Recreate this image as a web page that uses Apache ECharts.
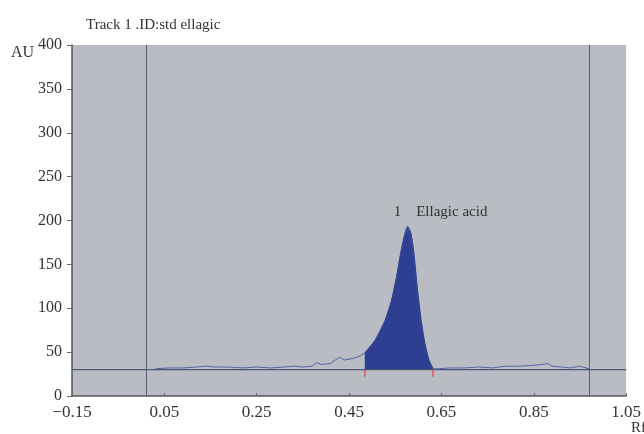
<!DOCTYPE html>
<html lang="en">
<head>
  <meta charset="UTF-8">
  <title>Track 1 .ID:std ellagic</title>
  <script src="https://cdn.jsdelivr.net/npm/echarts@6/dist/echarts.min.js"></script>
</head>
<body style="margin:0;background:#fff">
<div id="chart" style="width:644px;height:434px"></div>
<script>
// Rf / AU readings taken from the densitogram
const xTicks = [-0.15, 0.05, 0.25, 0.45, 0.65, 0.85, 1.05];
const baselineAU = 30;
const trackLines = [0.015, 0.975]; // start / front of the track

const noiseLeft = [
  [0.03, 31], [0.06, 32], [0.09, 32], [0.12, 33], [0.14, 34], [0.16, 33],
  [0.19, 33], [0.22, 32], [0.25, 33], [0.28, 32], [0.31, 33], [0.33, 34],
  [0.35, 33], [0.37, 34], [0.38, 38], [0.39, 36], [0.41, 37], [0.42, 41],
  [0.43, 44], [0.44, 41], [0.46, 43], [0.475, 46]
];
const peak = [
  [0.484, 49], [0.507, 64], [0.528, 86], [0.542, 109], [0.553, 136],
  [0.562, 163], [0.570, 183], [0.577, 193], [0.584, 185], [0.591, 159],
  [0.598, 121], [0.606, 86], [0.614, 60], [0.623, 41], [0.632, 31]
];
const noiseRight = [
  [0.64, 31], [0.67, 32], [0.70, 32], [0.73, 33], [0.76, 32], [0.79, 34],
  [0.82, 34], [0.85, 35], [0.87, 36], [0.88, 37], [0.89, 34], [0.91, 33],
  [0.93, 32], [0.95, 34], [0.97, 31]
];
const peakName = 'Ellagic acid';

const serif = '"Liberation Serif", "DejaVu Serif", serif';
const signal = noiseLeft.concat(peak, noiseRight);
const apex = peak.reduce((a, b) => (b[1] > a[1] ? b : a));
const peakStart = peak[0][0];
const peakEnd = peak[peak.length - 1][0];

const chart = echarts.init(document.getElementById('chart'));
chart.setOption({
  animation: false,
  grid: {
    left: 72, right: 15, top: 45, bottom: 38,
    show: true, backgroundColor: '#b9bcc3', borderWidth: 0
  },
  graphic: [
    { type: 'text', left: 86, top: 18, style: { text: 'Track 1 .ID:std ellagic', font: '15px ' + serif, fill: '#333' } },
    { type: 'text', left: 11, top: 45, style: { text: 'AU', font: '16px ' + serif, fill: '#333' } },
    { type: 'text', left: 631, top: 421, style: { text: 'Rf', font: '15px ' + serif, fill: '#333' } }
  ],
  xAxis: {
    type: 'value',
    min: -0.15, max: 1.05,
    axisLine: { onZero: false, lineStyle: { color: '#555', width: 1.5 } },
    axisTick: { customValues: xTicks, inside: true, length: 3, lineStyle: { color: '#666' } },
    axisLabel: {
      customValues: xTicks, margin: 8,
      fontFamily: serif, fontSize: 17, color: '#333',
      formatter: v => v.toFixed(2).replace('-', '\u2212')
    },
    splitLine: { show: false }
  },
  yAxis: {
    type: 'value',
    min: 0, max: 400, interval: 50,
    axisLine: { show: true, onZero: false, lineStyle: { color: '#555', width: 1.5 } },
    axisTick: { show: true, length: 5, lineStyle: { color: '#666' } },
    axisLabel: { fontFamily: serif, fontSize: 16, color: '#333', margin: 10 },
    splitLine: { show: false }
  },
  series: [
    {
      type: 'line',
      data: [[-0.15, baselineAU], [1.05, baselineAU]],
      symbol: 'none',
      lineStyle: { color: '#4a5578', width: 1.2 },
      markLine: {
        symbol: 'none', silent: true, label: { show: false },
        lineStyle: { color: '#56606e', width: 1, type: 'solid' },
        data: trackLines.map(x => ({ xAxis: x }))
      }
    },
    {
      type: 'line',
      data: signal,
      symbol: 'none',
      lineStyle: { color: '#5566a0', width: 1 }
    },
    {
      type: 'line',
      data: peak,
      symbol: 'none',
      smooth: 0.3,
      lineStyle: { color: '#2e3e90', width: 1 },
      areaStyle: { color: '#2e3e90', opacity: 1, origin: baselineAU },
      markLine: {
        symbol: 'none', silent: true, label: { show: false },
        lineStyle: { color: '#e8505a', width: 1.5, type: 'solid' },
        emphasis: { disabled: true },
        data: [
          [{ coord: [peakStart, baselineAU] }, { coord: [peakStart, baselineAU - 8] }],
          [{ coord: [peakEnd, baselineAU] }, { coord: [peakEnd, baselineAU - 8] }]
        ]
      },
      markPoint: {
        symbol: 'circle', symbolSize: 0,
        data: [{ coord: apex }],
        label: {
          show: true, position: 'inside', align: 'left', offset: [-14, -15],
          formatter: '1    ' + peakName,
          fontFamily: serif, fontSize: 15, color: '#333'
        }
      }
    }
  ]
});
</script>
</body>
</html>
